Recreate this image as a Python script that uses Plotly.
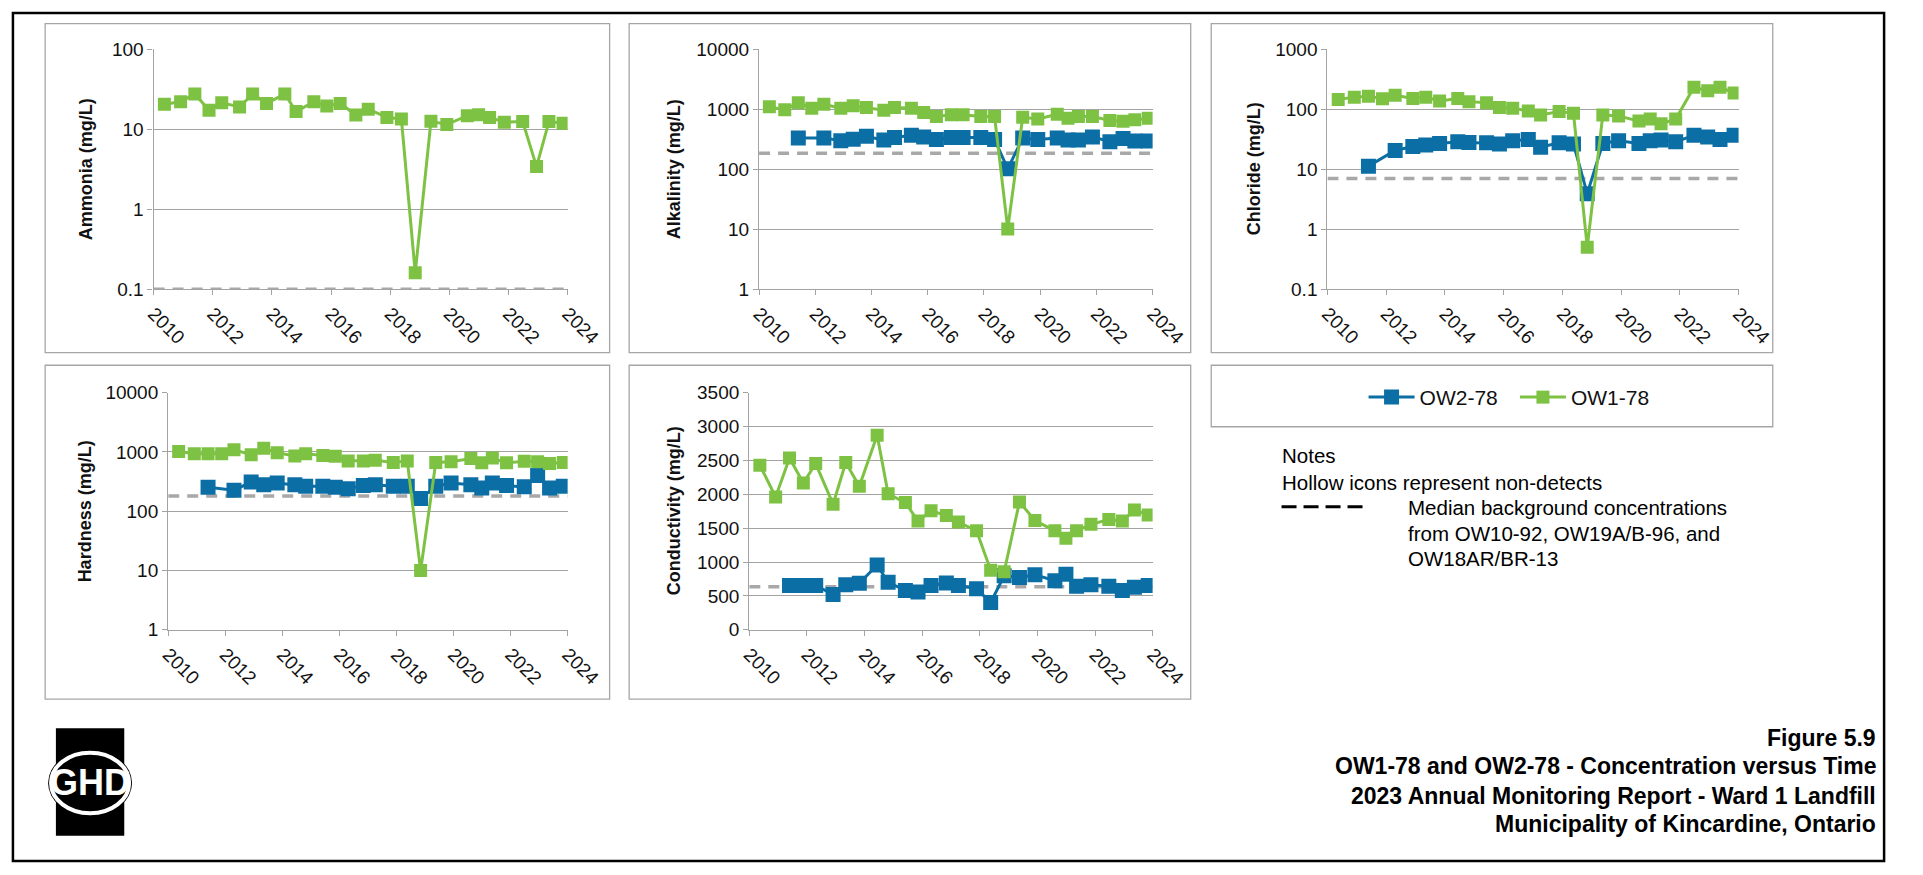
import math
import plotly.graph_objects as go

# ---------------------------------------------------------------- data
dates = [
    "2010-05-15", "2010-12-01", "2011-05-26", "2011-11-17", "2012-04-22",
    "2012-11-28", "2013-05-08", "2013-10-27", "2014-06-10", "2014-10-27",
    "2015-06-03", "2015-11-10", "2016-04-23", "2016-11-03", "2017-04-05",
    "2017-11-21", "2018-05-19", "2018-11-06", "2019-05-19", "2019-12-01",
    "2020-08-10", "2020-12-28", "2021-05-12", "2021-11-10", "2022-06-25",
    "2022-12-13", "2023-05-15", "2023-11-06",
]

ammonia_ow1 = [20.4, 21.9, 27.5, 17.2, 21.3, 18.9, 27.5, 20.9, 27.5, 16.6,
               21.9, 19.4, 20.9, 15.0, 17.7, 14.0, 13.4, 0.16, 12.5, 11.4,
               14.7, 15.1, 14.0, 12.2, 12.4, 3.4, 12.4, 11.8]

alkalinity_ow1 = [1090, 970, 1280, 1030, 1200, 1030, 1140, 1060, 955, 1060,
                  1030, 880, 750, 805, 805, 755, 750, 10, 730, 685,
                  820, 700, 750, 750, 645, 625, 665, 700]
alkalinity_ow2 = [None, None, 331, None, 331, 297, 315, 353, 304, 336,
                  367, 344, 311, 336, 336, 336, 311, 101, 331, 311,
                  331, 304, 304, 344, 285, 323, 293, 293]

chloride_ow1 = [144, 158, 164, 148, 170, 150, 158, 136, 150, 133,
                128, 106, 103, 93, 80, 91, 85, 0.5, 80, 77,
                63, 68, 57, 68, 230, 202, 232, 185]
chloride_ow2 = [None, None, 11.2, None, 20.4, 23.7, 25.2, 26.8, 28.5, 27.8,
                27.5, 26.1, 29.6, 31.1, 23.1, 27.5, 26.1, 3.9, 26.8, 29.6,
                26.8, 29.6, 30.4, 28.5, 36.6, 34.4, 31.1, 36.6]

hardness_ow1 = [1016, 931, 931, 931, 1084, 896, 1153, 966, 851, 931,
                873, 841, 705, 705, 722, 662, 705, 10, 662, 679,
                770, 653, 788, 653, 697, 679, 637, 662]
hardness_ow2 = [None, None, 253, None, 226, 310, 280, 299, 280, 263,
                263, 253, 238, 270, 280, 263, 263, 163, 263, 299,
                280, 247, 299, 270, 257, 399, 247, 263]

conductivity_ow1 = [2429, 1959, 2535, 2165, 2453, 1853, 2468, 2117, 2871, 2007,
                    1877, 1604, 1757, 1685, 1589, 1460, 879, 855, 1887, 1613,
                    1460, 1349, 1460, 1556, 1628, 1604, 1767, 1695]
conductivity_ow2 = [None, None, 653, 653, 653, 519, 663, 687, 955, 701,
                    581, 557, 653, 691, 653, 605, 403, 797, 773, 811,
                    725, 821, 643, 663, 643, 581, 629, 653]

# median background concentrations (OW10-92, OW19A/B-96, OW18AR/BR-13)
background = {"Ammonia": 0.1, "Alkalinity": 184, "Chloride": 7,
              "Hardness": 180, "Conductivity": 635}

axis_titles = ["Ammonia (mg/L)", "Alkalinity (mg/L)", "Chloride (mg/L)",
               "Hardness (mg/L)", "Conductivity (mg/L)"]
x_range = ["2010-01-01", "2024-01-01"]

# ---------------------------------------------------------------- style
W, H = 1923, 875
FONT = "Liberation Sans, Arial, Helvetica, sans-serif"
NARROW = "Liberation Sans Narrow, Arial Narrow, Liberation Sans, sans-serif"
BLUE = "#0B6EA5"
GREEN = "#7DC243"
GRID = "#A3A3A3"
BOX = "#A6A6A6"
DASH = "#A8A8A8"
TXT = "#111111"


def px(x):
    return x / W


def py(y):
    return 1 - y / H


# plot-area geometry of each panel in pixels: (left, right, top, bottom)
areas = [
    (147, 571, 40, 286),
    (767, 1170, 40, 286),
    (1349, 1770, 40, 286),
    (162, 571, 392, 635),
    (757, 1170, 392, 635),
]
# panel frames in pixels
frames = [
    (36, 614, 14, 351),
    (634, 1209, 14, 351),
    (1230, 1805, 14, 351),
    (36, 614, 364, 706),
    (634, 1209, 364, 706),
]
title_x = [78, 680, 1274, 77, 680]

panels = [
    dict(name="Ammonia", ow1=ammonia_ow1, ow2=None, log=True,
         ticks=[0.1, 1, 10, 100]),
    dict(name="Alkalinity", ow1=alkalinity_ow1, ow2=alkalinity_ow2, log=True,
         ticks=[1, 10, 100, 1000, 10000]),
    dict(name="Chloride", ow1=chloride_ow1, ow2=chloride_ow2, log=True,
         ticks=[0.1, 1, 10, 100, 1000]),
    dict(name="Hardness", ow1=hardness_ow1, ow2=hardness_ow2, log=True,
         ticks=[1, 10, 100, 1000, 10000]),
    dict(name="Conductivity", ow1=conductivity_ow1, ow2=conductivity_ow2,
         log=False, ticks=[0, 500, 1000, 1500, 2000, 2500, 3000, 3500]),
]

fig = go.Figure()
layout = {}
shapes = []
annotations = []

for i, p in enumerate(panels):
    n = "" if i == 0 else str(i + 1)
    xa, ya = "x" + n, "y" + n
    l, r, t, b = areas[i]
    in_legend = p["name"] == "Alkalinity"

    # background median as a dashed reference line
    fig.add_trace(go.Scatter(
        x=x_range, y=[background[p["name"]]] * 2, xaxis=xa, yaxis=ya,
        mode="lines", line=dict(color=DASH, width=3.5, dash="11px,8px"),
        showlegend=False, hoverinfo="skip"))

    if p["ow2"] is not None:
        fig.add_trace(go.Scatter(
            x=dates, y=p["ow2"], xaxis=xa, yaxis=ya, name="OW2-78",
            mode="lines+markers", connectgaps=True,
            line=dict(color=BLUE, width=3),
            marker=dict(symbol="square", size=15, color=BLUE),
            showlegend=in_legend, legend="legend"))
    fig.add_trace(go.Scatter(
        x=dates, y=p["ow1"], xaxis=xa, yaxis=ya, name="OW1-78",
        mode="lines+markers", connectgaps=True,
        line=dict(color=GREEN, width=3),
        marker=dict(symbol="square", size=13, color=GREEN),
        showlegend=in_legend, legend="legend2"))

    layout["xaxis" + n] = dict(
        domain=[px(l), px(r)], anchor=ya, type="date", range=x_range,
        tick0="2010-01-01", dtick="M24", tickformat="%Y", tickangle=45,
        ticks="outside", ticklen=5, tickwidth=1.3, tickcolor=GRID,
        showline=True, linecolor=GRID, linewidth=1.3, showgrid=False,
        zeroline=False, tickfont=dict(family=FONT, size=19, color=TXT))
    yax = dict(
        domain=[py(b), py(t)], anchor=xa,
        ticks="outside", ticklen=5, tickwidth=1.3, tickcolor=GRID,
        showline=True, linecolor=GRID, linewidth=1.3,
        showgrid=True, gridcolor=GRID, gridwidth=1.3, zeroline=False,
        tickvals=p["ticks"], ticktext=[f"{v:g}" for v in p["ticks"]],
        tickfont=dict(family=FONT, size=19, color=TXT))
    if p["log"]:
        yax.update(type="log", range=[math.log10(p["ticks"][0]),
                                      math.log10(p["ticks"][-1])])
    else:
        yax.update(type="linear", range=[p["ticks"][0], p["ticks"][-1]])
    layout["yaxis" + n] = yax

    fl, fr, ft, fb = frames[i]
    shapes.append(dict(type="rect", xref="paper", yref="paper",
                       x0=px(fl), x1=px(fr), y0=py(fb), y1=py(ft),
                       line=dict(color=BOX, width=1.3), layer="below"))
    annotations.append(dict(
        text=axis_titles[i], xref="paper", yref="paper",
        x=px(title_x[i]), y=py((t + b) / 2), textangle=-90,
        xanchor="center", yanchor="middle", showarrow=False,
        font=dict(family=FONT, size=18, color=TXT, weight="bold")))

# legend frame
shapes.append(dict(type="rect", xref="paper", yref="paper",
                   x0=px(1230), x1=px(1805), y0=py(427), y1=py(364),
                   line=dict(color=BOX, width=1.3)))

# notes
notes_font = dict(family=FONT, size=20.5, color="#000000")
for txt, x, y in [
    ("Notes", 1300, 456),
    ("Hollow icons represent non-detects", 1300, 484),
    ("Median background concentrations", 1429, 510),
    ("from OW10-92, OW19A/B-96, and", 1429, 536),
    ("OW18AR/BR-13", 1429, 562),
]:
    annotations.append(dict(text=txt, xref="paper", yref="paper",
                            x=px(x), y=py(y), xanchor="left", yanchor="middle",
                            showarrow=False, font=notes_font))
shapes.append(dict(type="line", xref="paper", yref="paper",
                   x0=px(1302), x1=px(1388), y0=py(509), y1=py(509),
                   line=dict(color="#000000", width=3, dash="15px,7px")))

# title block
for txt, y in [
    ("Figure 5.9", 746),
    ("OW1-78 and OW2-78 - Concentration versus Time", 775),
    ("2023 Annual Monitoring Report - Ward 1 Landfill", 805),
    ("Municipality of Kincardine, Ontario", 834),
]:
    annotations.append(dict(text=txt, xref="paper", yref="paper",
                            x=px(1913), y=py(y), xanchor="right",
                            yanchor="middle", showarrow=False,
                            font=dict(family=FONT, size=23, color="#000000",
                                      weight="bold")))

# GHD logo: black block with an oval ring breaking out of its sides
shapes += [
    dict(type="rect", xref="paper", yref="paper", x0=px(47), x1=px(117),
         y0=py(846), y1=py(736), fillcolor="#000000", line=dict(width=0)),
    dict(type="circle", xref="paper", yref="paper", x0=px(39), x1=px(125),
         y0=py(826), y1=py(758), fillcolor="#000000", line=dict(width=0)),
    dict(type="circle", xref="paper", yref="paper", x0=px(42), x1=px(122),
         y0=py(823), y1=py(761), fillcolor="#000000",
         line=dict(color="#FFFFFF", width=4)),
]
annotations.append(dict(text="GHD", xref="paper", yref="paper",
                        x=px(82), y=py(792), xanchor="center",
                        yanchor="middle", showarrow=False,
                        font=dict(family=NARROW, size=36, color="#FFFFFF",
                                  weight="bold")))

# outer frame
shapes.append(dict(type="rect", xref="paper", yref="paper",
                   x0=px(3), x1=px(1919), y0=py(872), y1=py(3),
                   line=dict(color="#000000", width=2.5)))

legend_style = dict(orientation="h", xanchor="left", yanchor="middle",
                    itemwidth=46, bgcolor="rgba(0,0,0,0)",
                    font=dict(family=FONT, size=21, color="#111111"))

fig.update_layout(
    width=W, height=H, autosize=False,
    margin=dict(l=0, r=0, t=0, b=0),
    paper_bgcolor="#FFFFFF", plot_bgcolor="rgba(0,0,0,0)",
    shapes=shapes, annotations=annotations,
    legend=dict(x=px(1386), y=py(397), **legend_style),
    legend2=dict(x=px(1541), y=py(397), **legend_style),
    **layout,
)

fig.write_html("out.html", config={"displayModeBar": False})
